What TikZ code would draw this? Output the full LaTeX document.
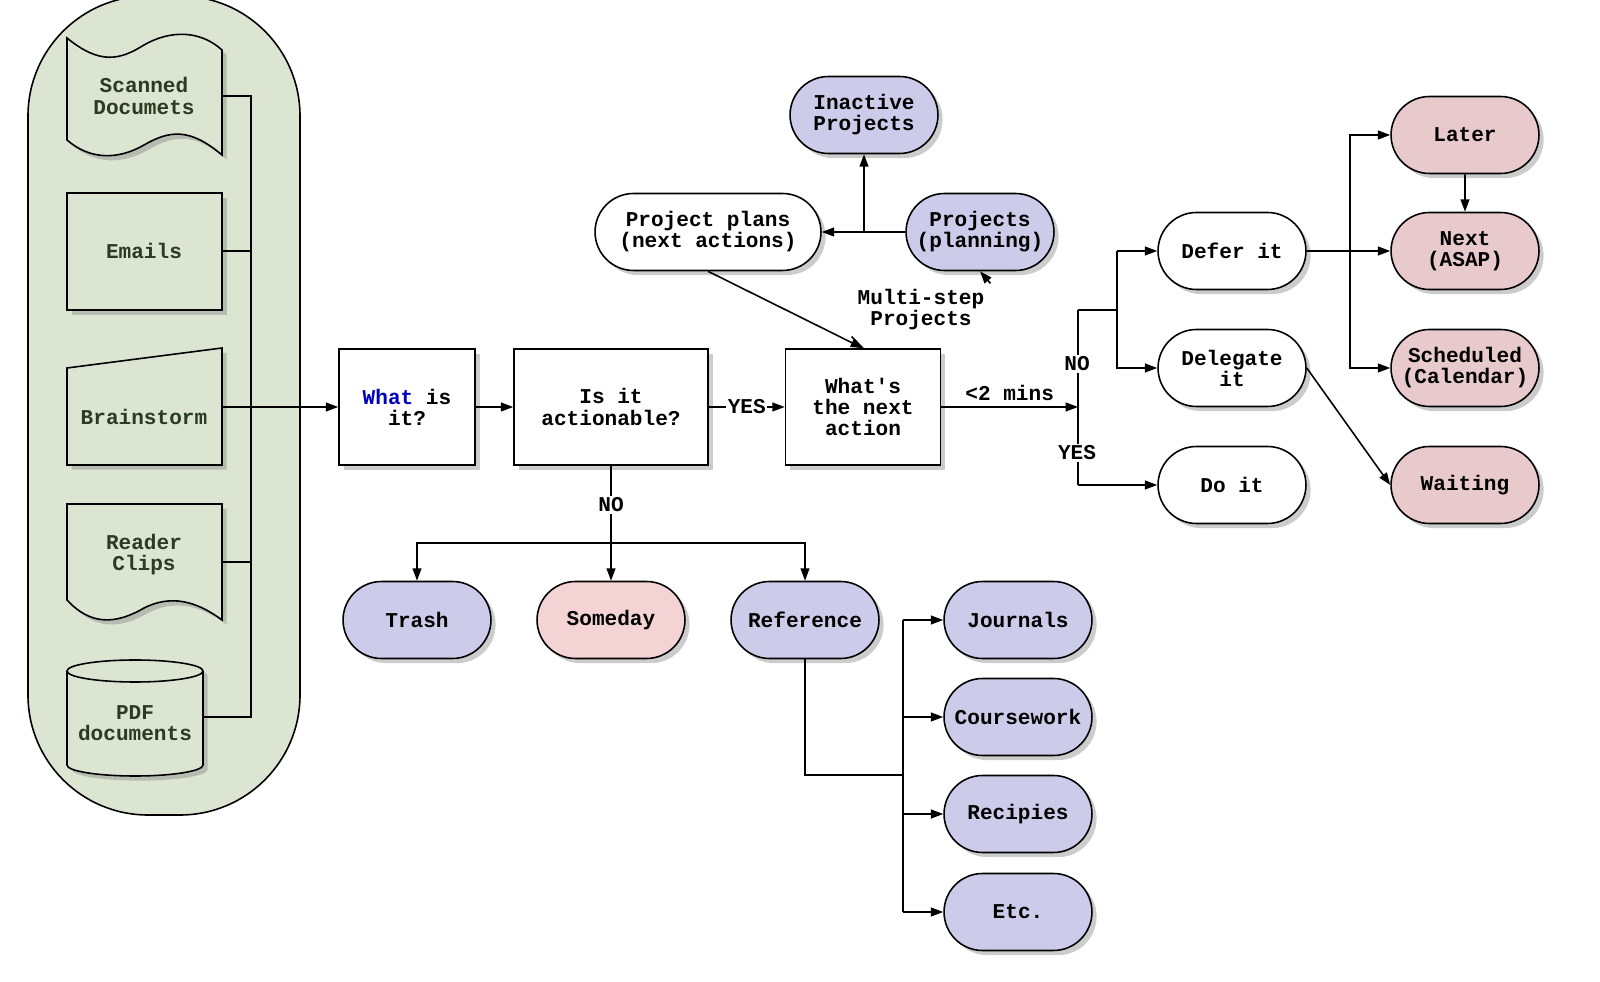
\documentclass[tikz,border=0pt]{standalone}
\usepackage{fontspec}
\setmainfont{Liberation Mono}
\usetikzlibrary{arrows.meta,shapes.misc,shadows,positioning}
\definecolor{inblue}{HTML}{CCCCEA}
\definecolor{inpink}{HTML}{F3D3D3}
\definecolor{inrose}{HTML}{E8C9CC}
\definecolor{ingreen}{HTML}{DCE5D2}
\definecolor{intext}{HTML}{2B3A22}
\tikzset{
  every node/.style={font=\fontsize{12}{12}\selectfont\bfseries, align=center},
  box/.style={draw, fill=white, line width=0.9pt, inner sep=2pt, drop shadow={opacity=0.4}},
  term/.style={box, rounded rectangle, minimum width=3.1cm, minimum height=1.54cm},
  proj/.style={term, fill=inblue},
  pinkterm/.style={term, fill=inrose},
  input/.style={draw, fill=ingreen, line width=0.9pt, drop shadow={opacity=0.4}},
  link/.style={line width=0.9pt, -{Triangle[length=7pt,width=5pt]}},
  line/.style={line width=0.9pt}
}
\begin{document}
\begin{tikzpicture}[x=0.02cm,y=-0.02cm]
\useasboundingbox (0,0) rectangle (1600,982);
% collection area
\draw[line width=0.9pt, fill=ingreen, rounded corners=2.4cm] (28,-4) rectangle (300,815);
% input shapes
\draw[input] (67,38) .. controls (100,65) and (120,60) .. (144,45) .. controls (170,30) and (200,30) .. (222,50)
  -- (222,155) .. controls (190,128) and (170,130) .. (144,145) .. controls (118,160) and (90,160) .. (67,140) -- cycle;
\draw[input] (67,193) rectangle (222,310);
\draw[input] (67,368) -- (222,348) -- (222,465) -- (67,465) -- cycle;
\draw[input] (67,504) -- (222,504) -- (222,620) .. controls (195,600) and (170,595) .. (144,608)
  .. controls (115,625) and (90,625) .. (67,600) -- cycle;
\draw[input] (67,671) -- (67,765) arc[start angle=180,end angle=360,x radius=68,y radius=-11] -- (203,671)
  arc[start angle=0,end angle=180,x radius=68,y radius=-11] -- cycle;
\draw[line width=0.9pt] (67,671) arc[start angle=180,end angle=360,x radius=68,y radius=-11];
\node[text=intext] (scan) at (144,96) {Scanned\\Documets};
\node[text=intext] (mail) at (144,251) {Emails};
\node[text=intext] (brain) at (144,417) {Brainstorm};
\node[text=intext] (clip) at (144,555) {Reader\\Clips};
\node[text=intext] (pdf) at (135,723) {PDF\\documents};
\coordinate (busT) at (251,96);
\coordinate (busB) at (251,717);
\draw[line] (222,96) -- (busT) -- (busB) -- (203,717);
\draw[line] (222,251) -- (251,251);
\draw[line] (222,562) -- (251,562);

% processing
\node[box, minimum width=2.72cm, minimum height=2.32cm] (what) at (407,407) {\textcolor{blue!75!black}{What} is\\it?};
\node[box, minimum width=3.88cm, minimum height=2.32cm] (act) at (611,407) {Is it\\actionable?};
\node[box, minimum width=3.1cm, minimum height=2.32cm] (next) at (863,407) {What\textquotesingle s\\the next\\action};
\draw[link] (222,407) -- (what);
\draw[link] (what) -- (act);
\draw[link] (act) -- node[fill=white, inner sep=1pt] (yes) {YES} (next);

% projects
\node[term, minimum width=4.66cm, fill=white] (plans) at (708,232) {Project plans\\(next actions)};
\node[proj] (planning) at (980,232) {Projects\\(planning)};
\node[proj] (inactive) at (864,115) {Inactive\\Projects};
\draw[link] (planning) -- (plans);
\draw[link] (864,232) -- (inactive);
\draw[link] (plans.south) -- (next.north);
\node (multi) at (921,310) {Multi-step\\Projects};
\draw[line] (next.north) -- (multi.south west);
\draw[link] (multi.north east) -- (planning.south);

% two minutes
\node[term] (defer) at (1232,251) {Defer it};
\node[term] (deleg) at (1232,368) {Delegate\\it};
\node[term] (doit) at (1232,485) {Do it};
\coordinate (split) at (1078,407);
\draw[link] (next) -- node[above] (mins) {<2 mins} (split);
\draw[line] (1078,310) -- (1078,485);
\draw[line] (1078,310) -- (1117,310);
\draw[link] (1117,251) |- (defer);
\draw[link] (1117,251) |- (deleg);
\draw[link] (1078,485) -- (doit);
\node[fill=white, inner sep=1pt] (no2) at (1077,364) {NO};
\node[fill=white, inner sep=1pt] (yes2) at (1077,453) {YES};

\node[pinkterm] (later) at (1465,135) {Later};
\node[pinkterm] (asap) at (1465,251) {Next\\(ASAP)};
\node[pinkterm] (sched) at (1465,368) {Scheduled\\(Calendar)};
\node[pinkterm] (wait) at (1465,485) {Waiting};
\draw[link] (defer) -- (asap);
\draw[link] (1350,251) |- (later);
\draw[link] (1350,251) |- (sched);
\draw[link] (later) -- (asap);
\draw[link] (deleg.east) -- (wait.west);

% not actionable
\node[proj] (trash) at (417,620) {Trash};
\node[term, fill=inpink] (someday) at (611,620) {Someday};
\node[proj] (ref) at (805,620) {Reference};
\draw[line] (act.south) -- (611,543);
\node[fill=white, inner sep=1pt] (no1) at (611,505) {NO};
\draw[link] (611,543) -| (trash);
\draw[link] (611,543) -- (someday);
\draw[link] (611,543) -| (ref);

% reference
\node[proj] (jour) at (1018,620) {Journals};
\node[proj] (course) at (1018,717) {Coursework};
\node[proj] (recip) at (1018,814) {Recipies};
\node[proj] (etc) at (1018,912) {Etc.};
\draw[line] (ref.south) |- (903,775);
\draw[line] (903,620) -- (903,912);
\foreach \n in {jour,course,recip,etc}
  \draw[link] (903,0 |- \n) -- (\n);
\end{tikzpicture}
\end{document}
